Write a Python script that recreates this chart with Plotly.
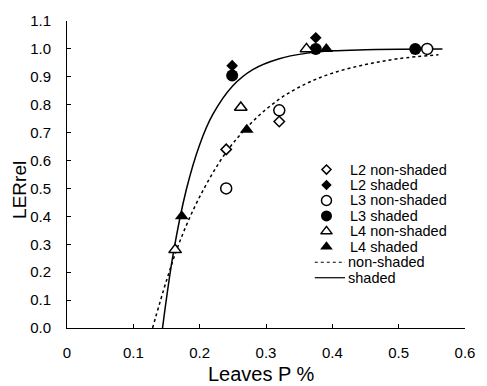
import plotly.graph_objects as go

# ---- data ----
l2_ns_x = [0.240, 0.320, 0.543]
l2_ns_y = [0.64, 0.74, 1.00]
l2_s_x = [0.249, 0.375]
l2_s_y = [0.94, 1.04]
l3_ns_x = [0.240, 0.320, 0.543]
l3_ns_y = [0.50, 0.78, 1.00]
l3_s_x = [0.249, 0.375, 0.525]
l3_s_y = [0.905, 1.00, 1.00]
l4_ns_x = [0.163, 0.262, 0.361]
l4_ns_y = [0.28, 0.79, 1.00]
l4_s_x = [0.173, 0.271, 0.391]
l4_s_y = [0.40, 0.71, 1.00]

# fitted curves
ns_curve_x = [0.129, 0.15, 0.17, 0.20, 0.24, 0.28, 0.32, 0.36, 0.40, 0.45, 0.50, 0.56]
ns_curve_y = [0.00, 0.17, 0.31, 0.47, 0.63, 0.74, 0.82, 0.875, 0.913, 0.944, 0.965, 0.979]
s_curve_x = [0.144, 0.16, 0.18, 0.20, 0.22, 0.25, 0.28, 0.32, 0.36, 0.40, 0.45, 0.50, 0.566]
s_curve_y = [0.00, 0.264, 0.497, 0.657, 0.766, 0.868, 0.926, 0.965, 0.984, 0.993, 0.997, 0.999, 1.00]

x_ticks = [0, 0.1, 0.2, 0.3, 0.4, 0.5, 0.6]
y_ticks = [0.0, 0.1, 0.2, 0.3, 0.4, 0.5, 0.6, 0.7, 0.8, 0.9, 1.0, 1.1]

series_names = ["L2 non-shaded", "L2 shaded", "L3 non-shaded", "L3 shaded",
                "L4 non-shaded", "L4 shaded"]
curve_names = ["non-shaded", "shaded"]

FONT = "Liberation Sans, Arial, sans-serif"
fig = go.Figure()

styles = [("diamond", 8, False), ("diamond", 9, True), ("circle", 11, False),
          ("circle", 12, True), ("triangle-up", 11, False), ("triangle-up", 12, True)]
curve_dash = ["dot", "solid"]

def mk(symbol, size, filled):
    return dict(symbol=symbol, size=size, color="black" if filled else "white",
                line=dict(color="black", width=0 if filled else 1.5))

# curves first so markers sit on top
for cx, cy, nm, dash in [(ns_curve_x, ns_curve_y, curve_names[0], curve_dash[0]),
                         (s_curve_x, s_curve_y, curve_names[1], curve_dash[1])]:
    fig.add_trace(go.Scatter(x=cx, y=cy, mode="lines", name=nm, showlegend=False,
                             line=dict(color="black", width=1.5, dash=dash, shape="spline")))

data = [(l2_ns_x, l2_ns_y), (l2_s_x, l2_s_y), (l3_ns_x, l3_ns_y),
        (l3_s_x, l3_s_y), (l4_ns_x, l4_ns_y), (l4_s_x, l4_s_y)]
for (x, y), nm, st in zip(data, series_names, styles):
    fig.add_trace(go.Scatter(x=x, y=y, mode="markers", name=nm, cliponaxis=False,
                             showlegend=False, marker=mk(*st)))

# ---- hand-made legend on a pixel-scaled overlay axis ----
PW, PH = 408, 312
row0, gap = 161, 15.7
sym_x, txt_x, ln_x0, ln_x1 = 266, 288, 254, 285
for i, (nm, st) in enumerate(zip(series_names, styles)):
    yy = row0 - i * gap
    fig.add_trace(go.Scatter(x=[sym_x], y=[yy], xaxis="x2", yaxis="y2", mode="markers",
                             showlegend=False, hoverinfo="skip", cliponaxis=False,
                             marker=mk(st[0], st[1] - 1, st[2])))
    fig.add_annotation(text=nm, x=txt_x, y=yy, xref="x2", yref="y2", xanchor="left",
                       yanchor="middle", showarrow=False,
                       font=dict(family=FONT, size=14.5, color="black"))
for j, (nm, dash) in enumerate(zip(curve_names, curve_dash)):
    yy = row0 - (6 + j) * gap
    fig.add_trace(go.Scatter(x=[ln_x0, ln_x1], y=[yy, yy], xaxis="x2", yaxis="y2",
                             mode="lines", showlegend=False, hoverinfo="skip",
                             line=dict(color="black", width=1.2, dash=dash)))
    fig.add_annotation(text=nm, x=ln_x1 + 1, y=yy, xref="x2", yref="y2", xanchor="left",
                       yanchor="middle", showarrow=False,
                       font=dict(family=FONT, size=14.5, color="black"))

axis_common = dict(showgrid=False, zeroline=False, showline=True, linecolor="black",
                   linewidth=1, ticks="inside", ticklen=4, tickcolor="black",
                   tickfont=dict(family=FONT, size=15, color="black"), mirror=False)

fig.update_layout(
    width=487, height=386,
    margin=dict(l=67, r=12, t=16, b=58),
    plot_bgcolor="white", paper_bgcolor="white",
    showlegend=False,
    xaxis=dict(range=[0, 0.6], tickvals=x_ticks,
               ticktext=[("%g" % v) for v in x_ticks], ticklabelstandoff=11, **axis_common),
    yaxis=dict(range=[0, 1.1], tickvals=y_ticks, tickformat=".1f",
               ticklabelstandoff=12, **axis_common),
    xaxis2=dict(range=[0, PW], overlaying="x", visible=False, fixedrange=True),
    yaxis2=dict(range=[0, PH], overlaying="y", visible=False, fixedrange=True),
)

fig.add_annotation(text="Leaves P %", xref="paper", yref="paper", x=0.488, y=-0.15,
                   xanchor="center", yanchor="middle", showarrow=False,
                   font=dict(family=FONT, size=20, color="black"))
fig.add_annotation(text="LERrel", xref="paper", yref="paper", x=-0.118, y=0.45,
                   xanchor="center", yanchor="middle", showarrow=False, textangle=-90,
                   font=dict(family=FONT, size=19, color="black"))

fig.write_html("out.html")
